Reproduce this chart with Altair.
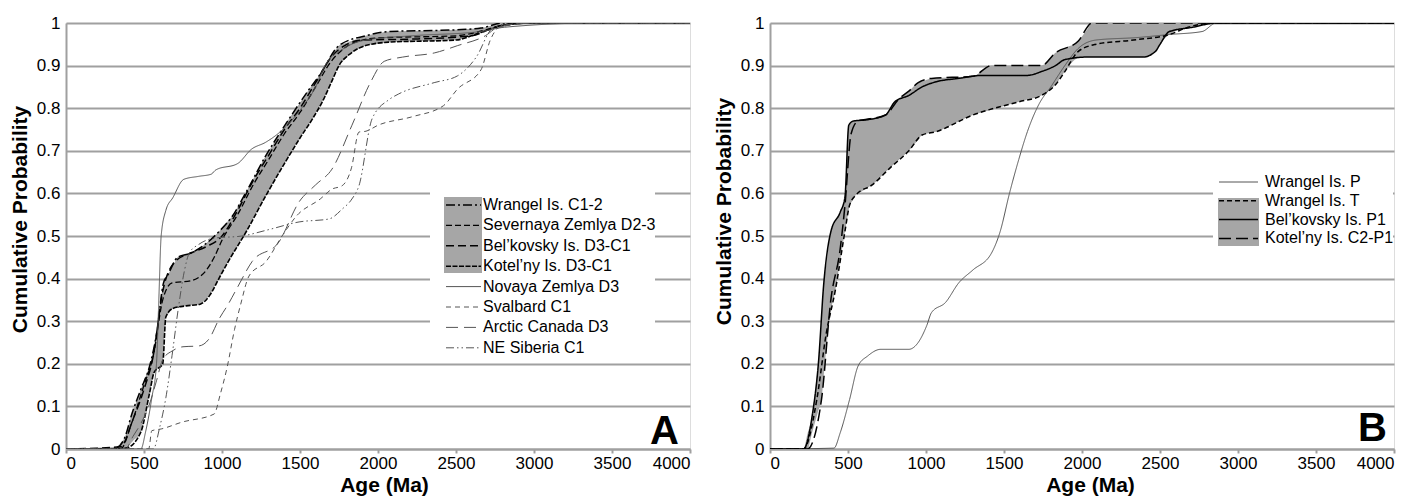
import altair as alt
import pandas as pd
import numpy as np

# ---------------- Panel A data (Age Ma, cumulative probability) ----------------
a_wrangel_age = [0, 280, 330, 380, 420, 480, 540, 580, 625, 655, 715, 800, 890, 980, 1067, 1150, 1280, 1430, 1550, 1630, 1750, 1920, 2070, 2500, 2660, 2800, 3000, 4000]
a_wrangel_p = [0, 0, 0.004, 0.03, 0.08, 0.14, 0.2, 0.27, 0.39, 0.41, 0.45, 0.46, 0.48, 0.51, 0.547, 0.6, 0.688, 0.775, 0.84, 0.88, 0.947, 0.97, 0.98, 0.984, 0.988, 1.0, 1.0, 1.0]

a_severnaya_age = [0, 350, 420, 500, 560, 620, 680, 800, 900, 950, 1000, 1100, 1200, 1300, 1400, 1500, 1600, 1700, 1800, 1900, 2000, 2500, 2700, 2800, 3000, 4000]
a_severnaya_p = [0, 0, 0.06, 0.15, 0.22, 0.35, 0.39, 0.395, 0.42, 0.45, 0.49, 0.55, 0.62, 0.68, 0.74, 0.79, 0.85, 0.91, 0.945, 0.96, 0.965, 0.97, 0.985, 0.995, 1.0, 1.0]

a_belkovsky_age = [0, 350, 430, 500, 560, 620, 700, 800, 900, 1000, 1100, 1200, 1300, 1400, 1500, 1600, 1700, 1800, 1900, 2200, 2600, 2750, 2900, 4000]
a_belkovsky_p = [0, 0.005, 0.07, 0.14, 0.22, 0.37, 0.44, 0.46, 0.475, 0.5, 0.56, 0.63, 0.69, 0.75, 0.8, 0.86, 0.92, 0.95, 0.96, 0.962, 0.97, 0.99, 1.0, 1.0]

a_kotelny_age = [0, 300, 390, 480, 535, 565, 620, 640, 685, 770, 860, 920, 980, 1040, 1155, 1280, 1400, 1500, 1580, 1650, 1700, 1750, 1830, 1920, 2070, 2500, 2660, 2800, 3000, 4000]
a_kotelny_p = [0, 0, 0.003, 0.04, 0.13, 0.18, 0.2, 0.31, 0.33, 0.336, 0.34, 0.36, 0.4, 0.44, 0.51, 0.594, 0.67, 0.73, 0.775, 0.82, 0.86, 0.9, 0.93, 0.947, 0.955, 0.96, 0.978, 0.994, 1.0, 1.0]

a_novaya_age = [0, 480, 510, 550, 580, 595, 610, 640, 685, 755, 850, 930, 960, 1100, 1190, 1280, 1390, 1510, 1600, 1660, 1780, 1920, 2220, 2660, 2810, 3400, 4000]
a_novaya_p = [0, 0, 0.04, 0.12, 0.2, 0.35, 0.5, 0.56, 0.59, 0.633, 0.64, 0.645, 0.655, 0.67, 0.704, 0.72, 0.75, 0.8, 0.85, 0.9, 0.94, 0.96, 0.97, 0.98, 0.99, 1.0, 1.0]

a_svalbard_age = [0, 530, 550, 610, 743, 949, 990, 1033, 1080, 1120, 1173, 1282, 1385, 1480, 1630, 1705, 1770, 1830, 1878, 1923, 2000, 2220, 2420, 2510, 2660, 2720, 2780, 3000, 4000]
a_svalbard_p = [0, 0, 0.043, 0.047, 0.063, 0.082, 0.13, 0.192, 0.28, 0.34, 0.406, 0.44, 0.5, 0.548, 0.587, 0.61, 0.618, 0.66, 0.744, 0.746, 0.76, 0.78, 0.806, 0.845, 0.89, 0.96, 0.99, 1.0, 1.0]

a_canada_age = [0, 380, 430, 480, 530, 580, 620, 680, 750, 853, 920, 981, 1040, 1100, 1193, 1365, 1494, 1600, 1705, 1833, 1951, 2040, 2158, 2364, 2511, 2688, 2770, 3000, 4000]
a_canada_p = [0, 0, 0.03, 0.06, 0.1, 0.16, 0.21, 0.23, 0.24, 0.242, 0.26, 0.305, 0.34, 0.38, 0.44, 0.486, 0.58, 0.62, 0.657, 0.76, 0.86, 0.91, 0.92, 0.93, 0.947, 0.97, 0.99, 1.0, 1.0]

a_siberia_age = [0, 560, 600, 640, 680, 720, 760, 790, 850, 950, 1128, 1300, 1494, 1686, 1770, 1833, 1878, 1962, 2070, 2130, 2360, 2510, 2630, 2730, 2800, 3000, 4000]
a_siberia_p = [0, 0, 0.05, 0.12, 0.22, 0.33, 0.42, 0.46, 0.48, 0.495, 0.5, 0.515, 0.533, 0.54, 0.563, 0.587, 0.618, 0.775, 0.82, 0.833, 0.86, 0.876, 0.92, 0.986, 0.995, 1.0, 1.0]

# ---------------- Panel B data ----------------
b_wrangelP_age = [0, 410, 450, 510, 565, 625, 710, 890, 950, 1005, 1035, 1125, 1210, 1300, 1420, 1475, 1535, 1595, 1650, 1725, 1800, 1890, 1975, 2090, 2360, 2560, 2770, 2860, 4000]
b_wrangelP_p = [0, 0.002, 0.038, 0.116, 0.195, 0.218, 0.234, 0.234, 0.25, 0.29, 0.32, 0.344, 0.39, 0.42, 0.46, 0.51, 0.6, 0.68, 0.745, 0.81, 0.85, 0.9, 0.94, 0.96, 0.966, 0.973, 0.98, 1.0, 1.0]

b_wrangelT_age = [0, 215, 300, 360, 420, 480, 510, 550, 655, 770, 890, 975, 1065, 1300, 1595, 1740, 1830, 1890, 1975, 2090, 2330, 2560, 2680, 2860, 4000]
b_wrangelT_p = [0, 0, 0.116, 0.27, 0.375, 0.51, 0.572, 0.596, 0.62, 0.66, 0.7, 0.737, 0.745, 0.784, 0.815, 0.83, 0.855, 0.886, 0.933, 0.95, 0.96, 0.973, 0.99, 1.0, 1.0]

b_belkovsky_age = [0, 215, 270, 310, 345, 390, 450, 480, 505, 535, 625, 740, 800, 890, 975, 1065, 1210, 1360, 1650, 1740, 1830, 1890, 2030, 2390, 2470, 2500, 2560, 2710, 2860, 4000]
b_belkovsky_p = [0, 0, 0.077, 0.2, 0.39, 0.51, 0.556, 0.59, 0.76, 0.77, 0.773, 0.784, 0.815, 0.83, 0.85, 0.862, 0.87, 0.877, 0.877, 0.886, 0.9, 0.914, 0.92, 0.92, 0.933, 0.95, 0.98, 0.99, 1.0, 1.0]

b_kotelny_age = [0, 240, 330, 390, 450, 480, 520, 565, 640, 740, 830, 890, 950, 1035, 1300, 1420, 1740, 1830, 1975, 2065, 4000]
b_kotelny_p = [0, 0, 0.116, 0.35, 0.47, 0.57, 0.74, 0.77, 0.775, 0.784, 0.823, 0.84, 0.86, 0.87, 0.875, 0.9, 0.9, 0.93, 0.957, 1.0, 1.0]

# ---------------- styles ----------------
FONT = "Liberation Sans"
GRID = "#a0a0a0"
GRAY_LINE = "#555555"
BAND = "#a6a6a6"
W, H = 624, 426

series_a = [
    ("Wrangel Is. C1-2", a_wrangel_age, a_wrangel_p, "black", [9, 3, 2, 3], 1.5),
    ("Severnaya Zemlya D2-3", a_severnaya_age, a_severnaya_p, "black", [6, 3], 1.3),
    ("Bel\u2019kovsky Is. D3-C1", a_belkovsky_age, a_belkovsky_p, "black", [8, 4], 1.5),
    ("Kotel\u2019ny Is. D3-C1", a_kotelny_age, a_kotelny_p, "black", [5, 1.5], 1.6),
    ("Novaya Zemlya D3", a_novaya_age, a_novaya_p, GRAY_LINE, [1, 0], 1.0),
    ("Svalbard C1", a_svalbard_age, a_svalbard_p, GRAY_LINE, [5, 4], 1.0),
    ("Arctic Canada D3", a_canada_age, a_canada_p, GRAY_LINE, [12, 6], 1.0),
    ("NE Siberia C1", a_siberia_age, a_siberia_p, GRAY_LINE, [8, 3, 1.5, 3, 1.5, 3], 1.0),
]
band_a_members = [0, 1, 2, 3]

series_b = [
    ("Wrangel Is. P", b_wrangelP_age, b_wrangelP_p, GRAY_LINE, [1, 0], 1.0),
    ("Wrangel Is. T", b_wrangelT_age, b_wrangelT_p, "black", [5, 3], 1.5),
    ("Bel\u2019kovsky Is. P1", b_belkovsky_age, b_belkovsky_p, "black", [1, 0], 1.5),
    ("Kotel\u2019ny Is. C2-P1", b_kotelny_age, b_kotelny_p, "black", [12, 5], 1.5),
]
band_b_members = [1, 2, 3]


def envelope(curves):
    grid = sorted(set(a for ages, _ in curves for a in ages))
    vals = np.array([np.interp(grid, ages, probs) for ages, probs in curves])
    return pd.DataFrame({"age": grid, "lo": vals.min(axis=0), "hi": vals.max(axis=0)})


xs = alt.Scale(domain=[0, 4000], nice=False, zero=False)
ys = alt.Scale(domain=[0, 1], nice=False)
one = pd.DataFrame({"k": [0]})


def make_axes(title_x, title_y):
    xaxis = alt.Axis(values=list(range(0, 4001, 500)), format="d", title="Age (Ma)", grid=False,
                     tickSize=4, tickColor=GRID, tickWidth=2, domainColor=GRID, domainWidth=2,
                     labelPadding=2, labelFontSize=17, labelFont=FONT, labelColor="black",
                     titleFont=FONT, titleFontSize=21, titleFontWeight="bold", titleColor="black",
                     titlePadding=3, titleX=title_x)
    yaxis = alt.Axis(values=[i / 10 for i in range(11)], format=".1~f", title="Cumulative Probability",
                     grid=True, gridColor=GRID, gridWidth=2, tickSize=0, domainColor=GRID, domainWidth=2,
                     labelPadding=6, labelFontSize=17, labelFont=FONT, labelColor="black",
                     titleFont=FONT, titleFontSize=21, titleFontWeight="bold", titleColor="black",
                     titlePadding=6, titleY=title_y)
    return xaxis, yaxis


def panel(series, members, letter, letter_xy, title_x, title_y, white_box, gray_box, leg_x, leg_text_x, leg_y0, leg_dy):
    xaxis, yaxis = make_axes(title_x, title_y)
    env = envelope([(series[i][1], series[i][2]) for i in members])
    layers = []
    layers.append(alt.Chart(env).mark_area(color=BAND, opacity=1, interpolate="monotone").encode(
        x=alt.X("age:Q", scale=xs, axis=xaxis),
        y=alt.Y("lo:Q", scale=ys, axis=yaxis),
        y2="hi:Q"))
    # legend background (white, hides gridlines) and gray box
    layers.append(alt.Chart(one).mark_rect(color="white").encode(
        x=alt.value(white_box[0]), x2=alt.value(white_box[1]),
        y=alt.value(white_box[2]), y2=alt.value(white_box[3])))
    layers.append(alt.Chart(one).mark_rect(color=BAND).encode(
        x=alt.value(gray_box[0]), x2=alt.value(gray_box[1]),
        y=alt.value(gray_box[2]), y2=alt.value(gray_box[3])))
    for name, ages, probs, color, dash, width in series:
        df = pd.DataFrame({"age": ages, "p": probs})
        layers.append(alt.Chart(df).mark_line(color=color, strokeDash=dash, strokeWidth=width,
                                              interpolate="monotone", clip=True).encode(
            x=alt.X("age:Q", scale=xs, axis=xaxis),
            y=alt.Y("p:Q", scale=ys, axis=yaxis)))
    for k, (name, ages, probs, color, dash, width) in enumerate(series):
        yy = leg_y0 + k * leg_dy
        layers.append(alt.Chart(one).mark_rule(color=color, strokeDash=dash, strokeWidth=width).encode(
            x=alt.value(leg_x[0]), x2=alt.value(leg_x[1]), y=alt.value(yy)))
        layers.append(alt.Chart(one).mark_text(text=name, font=FONT, fontSize=16, align="left",
                                               baseline="middle", color="black").encode(
            x=alt.value(leg_text_x), y=alt.value(yy)))
    layers.append(alt.Chart(one).mark_text(text=letter, font=FONT, fontSize=40, fontWeight="bold",
                                           align="right", baseline="alphabetic", color="black").encode(
        x=alt.value(letter_xy[0]), y=alt.value(letter_xy[1])))
    return alt.layer(*layers).properties(width=W, height=H)


pA = panel(series_a, band_a_members, "A", (613, 421), W / 2 + 6, 196,
           (364, 589, 162, 334), (378, 416, 174, 250), (380, 415), 417, 182, 20.4)
pB = panel(series_b, band_b_members, "B", (617, 418), W / 2 + 8, 188,
           (443, 623, 144, 238), (448, 489, 175, 223), (449, 488), 495, 159, 18.8)

chart = alt.hconcat(pA, pB, spacing=80, bounds="flush").properties(
    padding={"left": 0, "top": 5, "right": 0, "bottom": 0}
).configure_view(stroke=GRID, strokeWidth=2).configure(background="white")

chart.save("out.html", embed_options={"renderer": "svg", "actions": False})
